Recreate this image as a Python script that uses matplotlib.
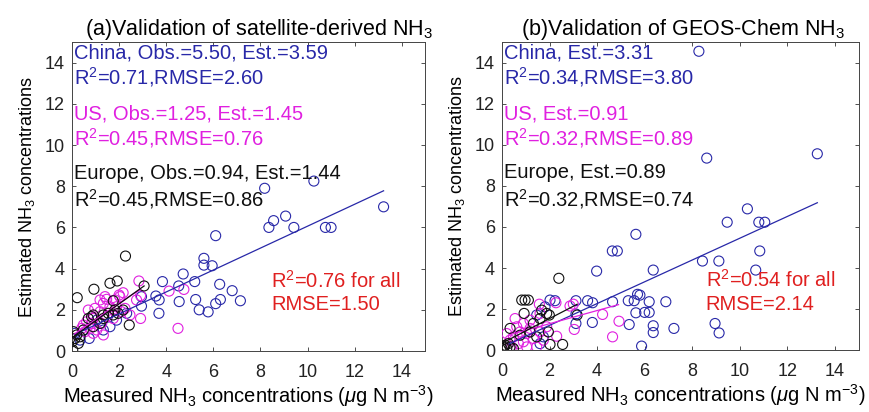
import numpy as np
import matplotlib
matplotlib.use('Agg')
import matplotlib.pyplot as plt

plt.rcParams['font.family'] = ['Liberation Sans', 'DejaVu Sans']
plt.rcParams['mathtext.fontset'] = 'custom'
plt.rcParams['mathtext.rm'] = 'Liberation Sans'
plt.rcParams['mathtext.it'] = 'Liberation Sans:italic'

# ---------------- (a) satellite-derived ----------------
a_china_x = [8.18, 10.27, 13.23, 8.36, 8.56, 9.07, 9.42, 10.76, 11.0, 6.1, 5.6, 5.6, 5.95, 6.27, 6.8,
             6.3, 6.1, 7.15, 5.4, 5.78, 4.72, 3.84, 5.21, 4.53, 3.56, 3.7, 2.95, 2.95, 5.25, 4.55,
             3.69, 0.73, 0.34, 1.05, 1.61, 1.33, 0.13, 1.89, 2.32]
a_china_y = [7.9, 8.25, 7.0, 6.0, 6.33, 6.55, 6.0, 6.0, 6.0, 5.6, 4.5, 4.17, 4.14, 3.24, 2.93,
             2.5, 2.3, 2.44, 2.0, 1.9, 3.74, 3.37, 3.37, 3.16, 2.67, 2.48, 2.64, 2.18, 2.5, 2.4,
             1.83, 0.61, 0.53, 1.5, 1.18, 1.02, 0.86, 1.5, 1.83]
a_us_x = [2.84, 2.17, 2.0, 1.82, 1.47, 1.33, 0.97, 0.69, 1.19, 1.61, 1.89, 2.1, 1.47, 0.9, 0.62,
          0.48, 0.83, 1.26, 1.75, 1.05, 0.76, 0.55, 1.33, 0.9, 0.41, 2.03, 1.4, 1.19, 2.91, 2.91,
          4.75, 4.12, 4.5, 2.46, 2.25, 2.74]
a_us_y = [3.4, 2.83, 2.72, 2.48, 2.51, 2.31, 2.07, 1.99, 1.91, 2.15, 2.15, 1.91, 1.67, 1.58, 1.42,
          1.26, 1.34, 1.34, 1.58, 1.02, 1.1, 0.94, 0.78, 0.86, 1.1, 2.64, 2.64, 2.48, 2.69, 1.58,
          2.99, 2.91, 1.1, 1.75, 2.07, 2.48]
a_eu_x = [2.27, 1.61, 1.92, 0.93, 0.22, 3.06, 2.43, 1.75, 0.03, 0.83, 0.9, 0.69, 1.33, 1.54, 1.82,
          1.96, 1.75, 1.19, 0.9, 0.2, 0.06, 0.13, 0.34, 0.27, 0.0, 0.48, 1.33, 2.17]
a_eu_y = [4.61, 3.29, 3.4, 3.0, 2.59, 3.16, 1.26, 2.44, 0.05, 1.67, 1.75, 1.58, 1.75, 1.83, 1.99,
          1.83, 1.75, 1.34, 1.18, 0.78, 0.94, 0.61, 0.69, 0.37, 0.45, 1.02, 1.58, 1.99]
# fitted lines: intercept, slope, x range
a_fit = {'china': (0.74, 0.532, 0.1, 13.23),
         'us': (0.75, 0.78, 0.1, 2.9),
         'eu': (0.65, 0.82, 0.05, 3.06)}
a_text = ['China, Obs.=5.50, Est.=3.59', 'R$^2$=0.71,RMSE=2.60',
          'US, Obs.=1.25, Est.=1.45', 'R$^2$=0.45,RMSE=0.76',
          'Europe, Obs.=0.94, Est.=1.44', 'R$^2$=0.45,RMSE=0.86']
a_all = ['R$^2$=0.76 for all', 'RMSE=1.50']

# ---------------- (b) GEOS-Chem ----------------
b_china_x = [8.28, 8.61, 13.26, 10.32, 9.47, 10.8, 11.05, 10.84, 8.43, 9.12, 10.67, 6.36, 6.19, 6.89,
             6.0, 6.19, 6.36, 6.36, 7.23, 8.96, 9.13, 5.87, 5.63, 5.8, 4.64, 4.85, 3.98, 5.7, 5.31,
             5.56, 4.65, 3.6, 3.81, 3.11, 5.63, 5.35, 3.8, 3.11, 3.11, 2.02, 2.23, 1.81, 1.46, 1.6, 1.74]
b_china_y = [14.55, 9.35, 9.56, 6.88, 6.23, 6.23, 6.23, 4.83, 4.34, 4.34, 3.9, 3.9, 2.36, 2.36,
             1.84, 1.84, 1.19, 0.86, 1.06, 1.3, 0.84, 0.2, 5.64, 2.68, 4.83, 4.83, 3.85, 2.72, 2.41,
             2.41, 2.36, 2.41, 2.31, 2.41, 1.82, 1.25, 1.35, 1.3, 1.76, 2.44, 2.41, 2.11, 1.71, 0.32, 0.65]
b_us_x = [4.92, 4.65, 4.23, 3.04, 2.86, 3.0, 1.57, 2.27, 2.3, 1.6, 1.18, 0.9, 0.62, 0.76, 1.04, 0.48,
          0.34, 0.69, 0.41, 0.9, 1.32, 1.6, 1.88, 1.46, 0.55, 1.74, 1.18, 0.2, 1.04]
b_us_y = [1.41, 0.65, 1.74, 1.01, 2.15, 2.24, 2.24, 2.31, 0.68, 1.79, 1.46, 1.3, 1.14, 0.89, 0.81, 0.65,
          0.49, 0.32, 0.16, 0.41, 0.57, 0.89, 1.14, 0.16, 1.54, 0.49, 1.06, 0.81, 0.16]
b_eu_x = [2.39, 0.83, 0.97, 1.11, 0.93, 3.16, 2.55, 2.02, 0.34, 1.95, 1.99, 0.06, 0.2, 0.34, 0.48,
          0.13, 0.0, 0.27, 1.32, 1.6, 1.18, 1.46, 0.76, 1.67, 1.88]
b_eu_y = [3.5, 2.44, 2.44, 2.44, 1.79, 1.71, 0.28, 0.28, 1.06, 0.89, 1.71, 0.16, 0.08, 0.16, 0.08,
          0.24, 0.08, 0.32, 1.3, 1.54, 0.89, 0.65, 0.73, 1.95, 1.79]
b_fit = {'china': (0.15, 0.53, 0.3, 13.26),
         'us': (0.65, 0.32, 0.3, 4.9),
         'eu': (0.34, 0.6, 0.05, 3.16)}
b_text = ['China, Est.=3.31', 'R$^2$=0.34,RMSE=3.80',
          'US, Est.=0.91', 'R$^2$=0.32,RMSE=0.89',
          'Europe, Est.=0.89', 'R$^2$=0.32,RMSE=0.74']
b_all = ['R$^2$=0.54 for all', 'RMSE=2.14']

titles = ['(a)Validation of satellite-derived NH$_3$', '(b)Validation of GEOS-Chem NH$_3$']
ticks = [0, 2, 4, 6, 8, 10, 12, 14]

blue = '#2828a8'
mag = '#e020e0'
blk = '#101010'
red = '#e02020'

fig = plt.figure(figsize=(8.7, 4.12), dpi=100)
ax1 = fig.add_axes([0.0828, 0.148, 0.406, 0.75])
ax2 = fig.add_axes([0.577, 0.150, 0.410, 0.748])

panels = [(ax1, a_china_x, a_china_y, a_us_x, a_us_y, a_eu_x, a_eu_y, a_fit, a_text, a_all, 0.564, 0.528),
          (ax2, b_china_x, b_china_y, b_us_x, b_us_y, b_eu_x, b_eu_y, b_fit, b_text, b_all, 0.571, 0.507)]

for k, (ax, cx, cy, ux, uy, ex, ey, fit, txt, alltxt, rx, tx) in enumerate(panels):
    ax.scatter(cx, cy, s=52, facecolors='none', edgecolors=blue, linewidths=0.8, zorder=2)
    ax.scatter(ux, uy, s=52, facecolors='none', edgecolors=mag, linewidths=0.8, zorder=3)
    ax.scatter(ex, ey, s=52, facecolors='none', edgecolors=blk, linewidths=0.8, zorder=4)
    for key, c in [('china', blue), ('us', mag), ('eu', blk)]:
        b0, b1, x0, x1 = fit[key]
        xx = np.array([x0, x1])
        ax.plot(xx, b0 + b1 * xx, color=c, lw=0.9, zorder=5)
    cols = [blue, blue, mag, mag, blk, blk]
    ys = [0.966, 0.887, 0.768, 0.688, 0.575, 0.491]
    for t, c, yy in zip(txt, cols, ys):
        ax.text(0.006, yy, t, color=c, fontsize=14.5, transform=ax.transAxes, va='center', ha='left')
    ax.text(rx, 0.227, alltxt[0], color=red, fontsize=14.5, transform=ax.transAxes, va='center')
    ax.text(rx, 0.149, alltxt[1], color=red, fontsize=14.5, transform=ax.transAxes, va='center')

    ax.set_xlim(0, 15)
    ax.set_ylim(0, 15)
    ax.set_xticks(ticks)
    ax.set_yticks(ticks)
    ax.tick_params(direction='in', top=True, right=True, labelsize=13, length=3, width=0.6,
                   colors='#333333', labelcolor='#222222')
    ax.tick_params(axis='x', pad=9)
    ax.tick_params(axis='y', pad=5)
    for s in ax.spines.values():
        s.set_linewidth(0.7)
        s.set_color('#444444')
    ax.set_title(titles[k], fontsize=15.5, pad=5, x=tx)
    ax.set_ylabel('Estimated NH$_3$ concentrations', fontsize=13, labelpad=6)
    ax.set_xlabel('Measured NH$_3$ concentrations ($\\mu$g N m$^{-3}$)', fontsize=14.5, labelpad=2)

fig.savefig('out.png', dpi=100)
